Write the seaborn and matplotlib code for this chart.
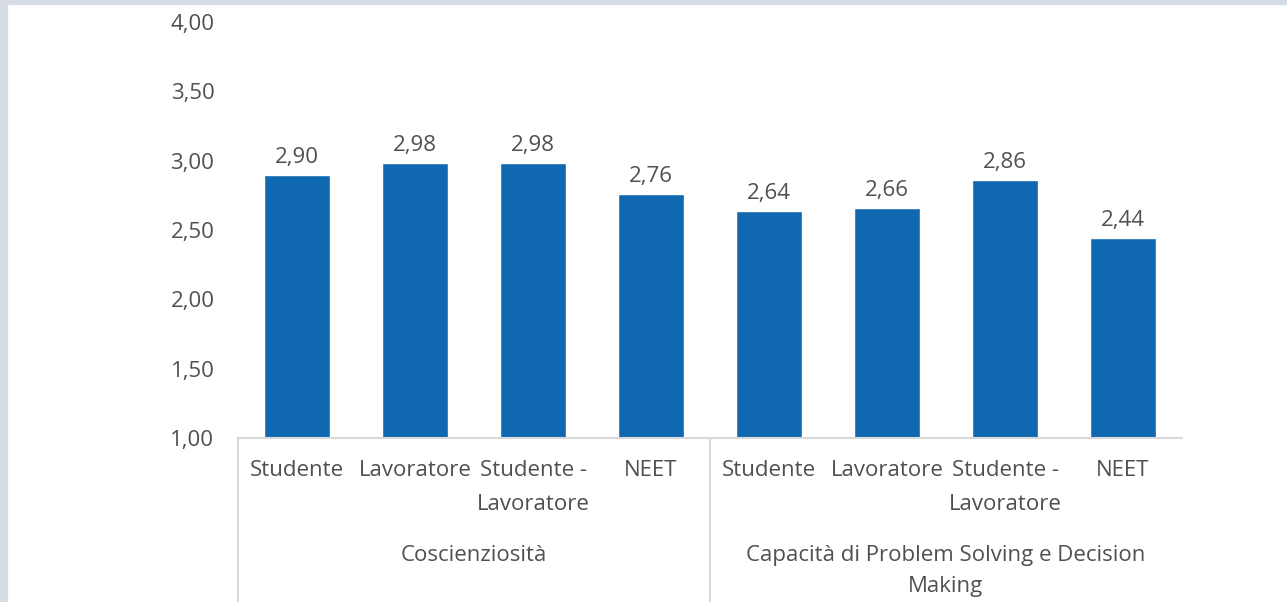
import numpy as np
import pandas as pd
import matplotlib
matplotlib.use("Agg")
import matplotlib.pyplot as plt
import seaborn as sns

# dati
categorie = ["Studente", "Lavoratore", "Studente -\nLavoratore", "NEET",
             "Studente", "Lavoratore", "Studente -\nLavoratore", "NEET"]
valori = [2.90, 2.98, 2.98, 2.76, 2.64, 2.66, 2.86, 2.44]
gruppi = ["Coscienziosità", "Capacità di Problem Solving e Decision\nMaking"]
yticks = [1.0, 1.5, 2.0, 2.5, 3.0, 3.5, 4.0]

sns.set_style("white")
plt.rcParams['font.family'] = ['Open Sans', 'DejaVu Sans']

grigio = "#505050"
blu = "#1068b0"
fs = 16

df = pd.DataFrame({"pos": [str(i) for i in range(len(valori))], "valore": valori})

fig = plt.figure(figsize=(12.87, 6.02), dpi=100)
fig.patch.set_facecolor("white")
# bordo grigio-azzurro a sinistra e in alto
fig.patches.append(plt.Rectangle((0, 0), 7 / 1287, 1, transform=fig.transFigure,
                                 color="#d5dce6", zorder=0))
fig.patches.append(plt.Rectangle((0, 1 - 4 / 602), 1, 4 / 602, transform=fig.transFigure,
                                 color="#d5dce6", zorder=0))

ax = fig.add_axes([238 / 1287, (602 - 438) / 602, 944 / 1287, 416 / 602])
sns.barplot(data=df, x="pos", y="valore", color=blu, width=0.56, saturation=1, ax=ax)

ax.set_ylim(1.0, 4.0)
ax.set_xlim(-0.5, 7.5)
ax.set_yticks(yticks)
ax.set_yticklabels([f"{v:.2f}".replace(".", ",") for v in yticks], color=grigio, fontsize=fs)
ax.set_xticks(range(len(categorie)))
ax.set_xticklabels(categorie, color=grigio, fontsize=fs, linespacing=1.8)
ax.tick_params(axis="x", length=0, pad=16)
ax.tick_params(axis="y", length=0, pad=17)
ax.set_xlabel("")
ax.set_ylabel("")

for s in ["top", "right", "left"]:
    ax.spines[s].set_visible(False)
ax.spines["bottom"].set_color("#d9d9d9")
ax.spines["bottom"].set_linewidth(1.5)

# etichette valori
ax.bar_label(ax.containers[0], labels=[f"{v:.2f}".replace(".", ",") for v in valori],
             padding=5, color=grigio, fontsize=fs)

# separatori dei gruppi
for xs in [-0.5, 3.5]:
    ax.plot([xs, xs], [0, -0.5], transform=ax.get_xaxis_transform(),
            color="#d9d9d9", lw=1.5, clip_on=False)

# etichette gruppi
for xg, testo in zip([1.5, 5.5], gruppi):
    ax.text(xg, -0.257, testo, transform=ax.get_xaxis_transform(), ha="center", va="top",
            color=grigio, fontsize=fs, linespacing=1.6)

fig.savefig("out.png", dpi=100, facecolor=fig.get_facecolor())
